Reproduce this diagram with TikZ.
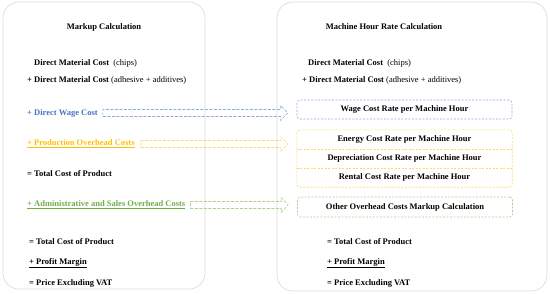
\documentclass[tikz,border=0pt]{standalone}
\usepackage{fontspec}
\setmainfont{Liberation Serif}
\usetikzlibrary{calc}
\definecolor{wblue}{HTML}{4472C4}
\definecolor{lblue}{HTML}{8FAADC}
\definecolor{wgold}{HTML}{FFC000}
\definecolor{lgold}{HTML}{FFD966}
\definecolor{wgreen}{HTML}{70AD47}
\definecolor{lgreen}{HTML}{A9D18E}
\definecolor{panelgray}{HTML}{D9D9D9}
\newcommand\mkblockarrow[3]{%
  \draw[#1,dashed,line width=0.6pt,dash pattern=on 3pt off 1.5pt]
    ($(#2)+(0,3.5)$) -- ($(#3)+(-7,3.5)$) -- ($(#3)+(-7,7.5)$) -- (#3)
    -- ($(#3)+(-7,-7.5)$) -- ($(#3)+(-7,-3.5)$) -- ($(#2)+(0,-3.5)$) -- cycle;}
\tikzset{
  txt/.style={anchor=west,inner sep=0pt,font=\fontsize{8.5}{10}\selectfont},
  ttl/.style={inner sep=0pt,font=\fontsize{8.5}{10}\selectfont\bfseries},
  panel/.style={draw=panelgray,line width=0.6pt,rounded corners=16pt},
  rbox/.style={minimum width=215pt,minimum height=19pt,inner sep=0pt,font=\fontsize{8.5}{10}\selectfont\bfseries},
  dbox/.style={dashed,line width=0.6pt,dash pattern=on 2pt off 1.5pt,rounded corners=3pt}
}
\begin{document}
\begin{tikzpicture}[x=1pt,y=-1pt]
\useasboundingbox (0,0) rectangle (550,293);
% panels
\draw[panel] (3,2) rectangle (205,289);
\draw[panel] (277,2) rectangle (547,291);
% titles
\node[ttl] (ltitle) at (104,27) {Markup Calculation};
\node[ttl] (rtitle) at (384,27) {Machine Hour Rate Calculation};
% left column
\node[txt] (l1) at (34,63) {\textbf{Direct Material Cost}\ \ (chips)};
\node[txt] (l2) at (27,80) {\textbf{+ Direct Material Cost} (adhesive + additives)};
\node[txt,text=wblue] (lwage) at (27,113) {\textbf{+ Direct Wage Cost}};
\node[txt,text=wgold] (lprod) at (27,144) {\textbf{\underline{+ Production Overhead Costs}}};
\node[txt] (ltot) at (27,174) {\textbf{= Total Cost of Product}};
\node[txt,text=wgreen] (ladm) at (27,205) {\textbf{\underline{+ Administrative and Sales Overhead Costs}}};
\node[txt] (ltot2) at (29,242) {\textbf{= Total Cost of Product}};
\node[txt] (lprof) at (29,263) {\textbf{\underline{+ Profit Margin}}};
\node[txt] (lprice) at (29,283) {\textbf{= Price Excluding VAT}};
% right column
\node[txt] (r1) at (308,63) {\textbf{Direct Material Cost}\ \ (chips)};
\node[txt] (r2) at (302,80) {\textbf{+ Direct Material Cost} (adhesive + additives)};
\node[rbox,draw=lblue,dbox] (wage) at (404.5,109.5) {Wage Cost Rate per Machine Hour};
\node[rbox,minimum height=19pt] (energy) at (404.5,139.5) {Energy Cost Rate per Machine Hour};
\node[rbox,minimum height=19pt] (deprec) at (404.5,158.5) {Depreciation Cost Rate per Machine Hour};
\node[rbox,minimum height=19pt] (rental) at (404.5,177.5) {Rental Cost Rate per Machine Hour};
\draw[draw=lgold,dbox] (energy.north west) rectangle (rental.south east);
\draw[draw=lgold,dbox] (energy.south west) -- (energy.south east);
\draw[draw=lgold,dbox] (deprec.south west) -- (deprec.south east);
\node[rbox,draw=lgreen,dbox,minimum height=20pt] (other) at (405,207) {Other Overhead Costs Markup Calculation};
\node[txt] (rtot) at (327,242) {\textbf{= Total Cost of Product}};
\node[txt] (rprof) at (327,263) {\textbf{\underline{+ Profit Margin}}};
\node[txt] (rprice) at (327,283) {\textbf{= Price Excluding VAT}};
% arrows
\coordinate (aw1) at ($(lwage.east)+(5,0)$);
\coordinate (aw2) at ($(wage.west)+(-9,3)$);
\coordinate (ap1) at ($(lprod.east)+(6,0)$);
\coordinate (ap2) at ($(energy.west)+(-9,5)$);
\coordinate (ag1) at ($(ladm.east)+(5,0)$);
\coordinate (ag2) at ($(other.west)+(-9,0)$);
\mkblockarrow{lblue}{aw1}{aw1 -| aw2}
\mkblockarrow{lgold}{ap1}{ap1 -| ap2}
\mkblockarrow{lgreen}{ag1}{ag1 -| ag2}
\end{tikzpicture}
\end{document}
